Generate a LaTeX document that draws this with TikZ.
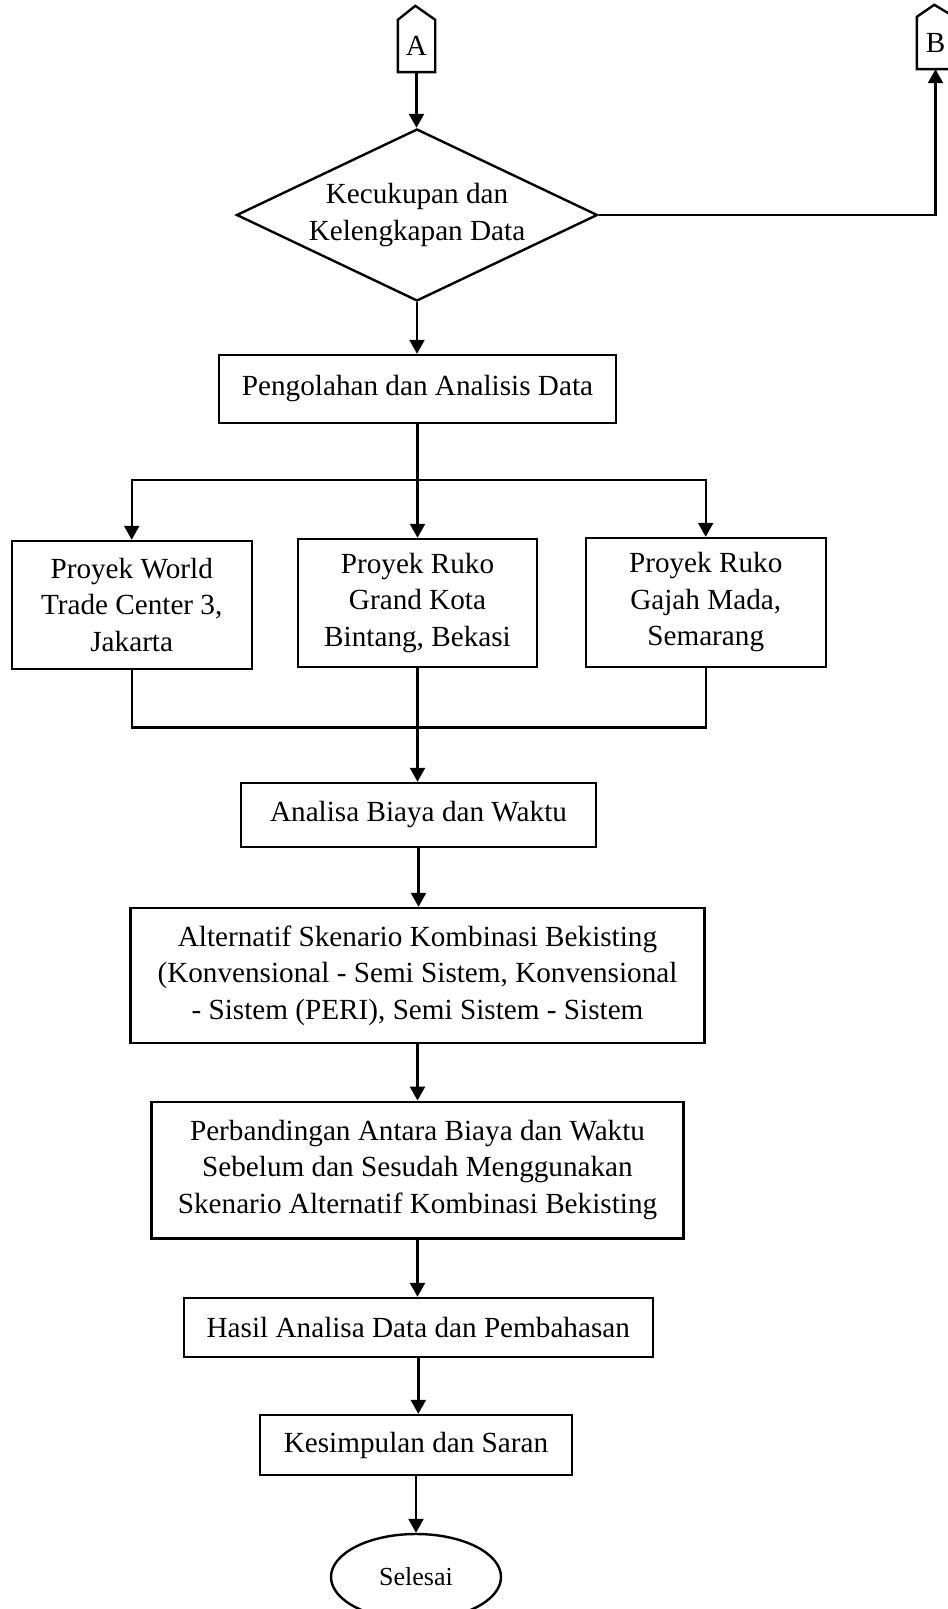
\documentclass[tikz,border=0pt]{standalone}
\usepackage{fontspec}
\setmainfont{Liberation Serif}
\usetikzlibrary{shapes.geometric,arrows.meta}
\begin{document}
\begin{tikzpicture}[x=0.5pt,y=-0.5pt,
  line width=1.2pt,
  txt/.style={font=\fontsize{14.6pt}{18.25pt}\selectfont},
  box/.style={draw,rectangle,inner sep=0pt,align=center,txt},
  conn/.style={inner sep=0pt,minimum width=17.5pt,minimum height=25pt,txt},
  arr/.style={-{Triangle[length=7pt,width=7.5pt]}}
]
\useasboundingbox (0,0) rectangle (947,1609);

% off-page connectors
\node[conn] (A) at (416.5,46) {A};
\draw (A.south west) -- (A.north west) -- ++(17.5,-14) -- (A.north east) -- (A.south east) -- cycle;
\node[conn] (B) at (935.5,43) {B};
\draw (B.south west) -- (B.north west) -- ++(17.5,-12) -- (B.north east) -- (B.south east) -- cycle;

% decision
\node[diamond,draw,aspect=2.1,inner sep=0pt,minimum width=180.5pt,minimum height=86pt,align=center,txt] (D) at (417,215) {Kecukupan dan\\Kelengkapan Data};

\node[box,minimum width=198.5pt,minimum height=34pt] (P) at (417.5,389) {Pengolahan dan Analisis Data};

\node[box,minimum width=120pt,minimum height=64pt] (b1) at (131.7,605) {Proyek World\\Trade Center 3,\\Jakarta};
\node[box,minimum width=119.5pt,minimum height=64pt] (b2) at (417.5,603) {Proyek Ruko\\Grand Kota\\Bintang, Bekasi};
\node[box,minimum width=120pt,minimum height=64.5pt] (b3) at (705.7,602.5) {Proyek Ruko\\Gajah Mada,\\Semarang};

\node[box,minimum width=177.5pt,minimum height=32pt] (C) at (418.5,815) {Analisa Biaya dan Waktu};

\node[box,minimum width=287pt,minimum height=67.5pt] (E) at (417.5,975.5) {Alternatif Skenario Kombinasi Bekisting\\(Konvensional - Semi Sistem, Konvensional\\- Sistem (PERI), Semi Sistem - Sistem};

\node[box,minimum width=266pt,minimum height=68.3pt] (F) at (417.5,1170) {Perbandingan Antara Biaya dan Waktu\\Sebelum dan Sesudah Menggunakan\\Skenario Alternatif Kombinasi Bekisting};

\node[box,minimum width=234.5pt,minimum height=29.5pt] (G) at (418.3,1327.5) {Hasil Analisa Data dan Pembahasan};

\node[box,minimum width=156pt,minimum height=30pt] (H) at (416,1445) {Kesimpulan dan Saran};

\node[ellipse,draw,inner sep=0pt,minimum width=85pt,minimum height=43pt,font=\fontsize{13pt}{15pt}\selectfont] (S) at (416,1577) {Selesai};

% connectors
\draw[arr] (A.south) -- (A.south |- D.north);
\draw[arr] (D.east) -| (B.south);
\draw[arr] (D.south) -- (D.south |- P.north);

\draw (P.south) -- (P.south |- 0,480) coordinate (br);
\draw[arr] (br) -| (b1.north);
\draw[arr] (br) -| (b3.north);
\draw[arr] (br) -- (br |- b2.north);

\draw (b1.south) |- (b2.south |- 0,727.5) coordinate (mg);
\draw (b3.south) |- (mg);
\draw (b2.south) -- (mg);
\draw[arr] (mg) -- (mg |- C.north);

\draw[arr] (C.south) -- (C.south |- E.north);
\draw[arr] (E.south) -- (E.south |- F.north);
\draw[arr] (F.south) -- (F.south |- G.north);
\draw[arr] (G.south) -- (G.south |- H.north);
\draw[arr] (H.south) -- (H.south |- S.north);
\end{tikzpicture}
\end{document}
